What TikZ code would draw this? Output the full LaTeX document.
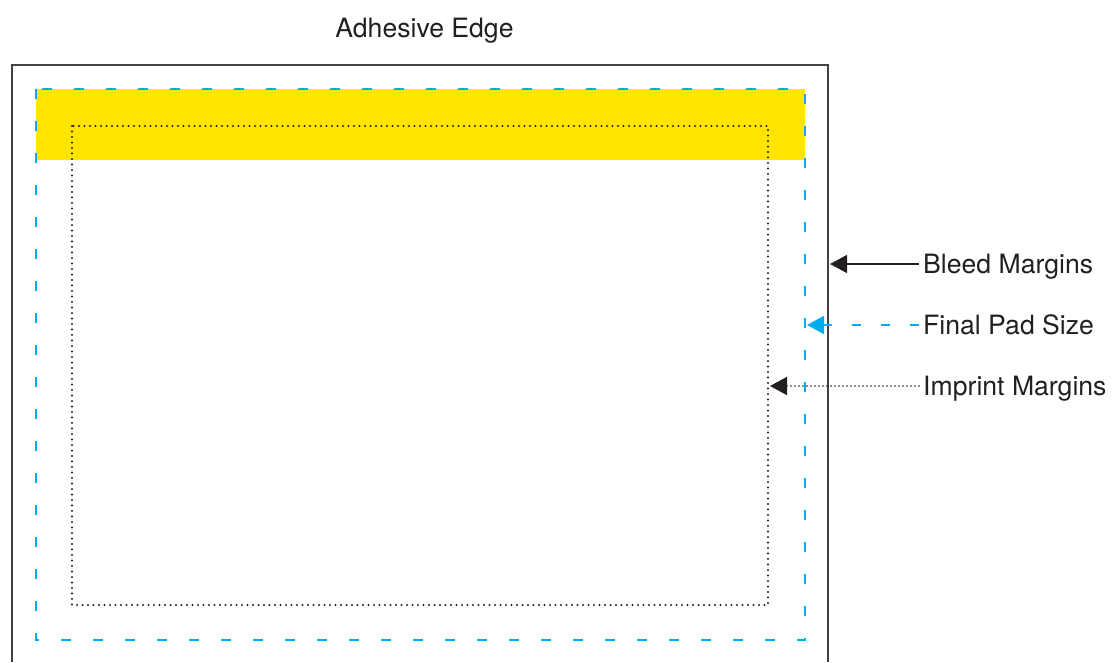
\documentclass[tikz,border=0pt]{standalone}
\usepackage{fontspec}
\setmainfont{TeX Gyre Heros}
\usepackage{tikz}
\usetikzlibrary{arrows.meta, positioning}
\definecolor{padcyan}{RGB}{0, 174, 239}
\definecolor{glueyellow}{RGB}{255, 229, 0}
\definecolor{inkdark}{RGB}{35, 31, 32}

\begin{document}
\begin{tikzpicture}[x=1pt, y=-1pt,
  lbl/.style={anchor=west, font=\fontsize{26.6}{30}\selectfont, text=inkdark,
              text height=19pt, text depth=0pt, inner sep=4pt},
  bleedline/.style={draw=inkdark!85, line width=1.3pt},
  padline/.style={draw=padcyan, line width=2.6pt, dash pattern=on 10pt off 22pt},
  imprintline/.style={draw=inkdark, line width=2.2pt, line cap=round,
                      dash pattern=on 0pt off 5.5pt},
  tip/.style={-{Triangle[length=17pt, width=18pt]}},
]
\useasboundingbox (0,0) rectangle (1117,662);

% Adhesive strip
\fill[glueyellow] (36,89) rectangle (805,160);

% Bleed outline (runs off the bottom)
\draw[bleedline] (12,662) -- (12,65) -- (828,65) -- (828,662);

% Final pad size
\draw[padline] (36,89) rectangle (805,640);

% Imprint area
\draw[imprintline] (72,126) rectangle (768,605);

% Title
\node[font=\fontsize{26.6}{30}\selectfont, text=inkdark, text height=19pt,
      text depth=0pt] (edge) at (424.5,28) {Adhesive Edge};

% Labels
\node[lbl] (bleed) at (919,264) {Bleed Margins};
\node[lbl] (pad) at (919,325) {Final Pad Size};
\node[lbl] (imprint) at (919,386) {Imprint Margins};

\coordinate (bleedtip) at (830,264);
\coordinate (padtip) at (807,325);
\coordinate (imprinttip) at (770,386);

\draw[tip, inkdark, line width=1.2pt] (bleed.west) -- (bleedtip);
\draw[tip, padcyan, line width=2pt, dash pattern=on 9pt off 20pt] (pad.west) -- (padtip);
\draw[tip, inkdark, line width=1.8pt, line cap=round, dash pattern=on 0pt off 4pt]
  (imprint.west) -- (imprinttip);
\end{tikzpicture}
\end{document}
